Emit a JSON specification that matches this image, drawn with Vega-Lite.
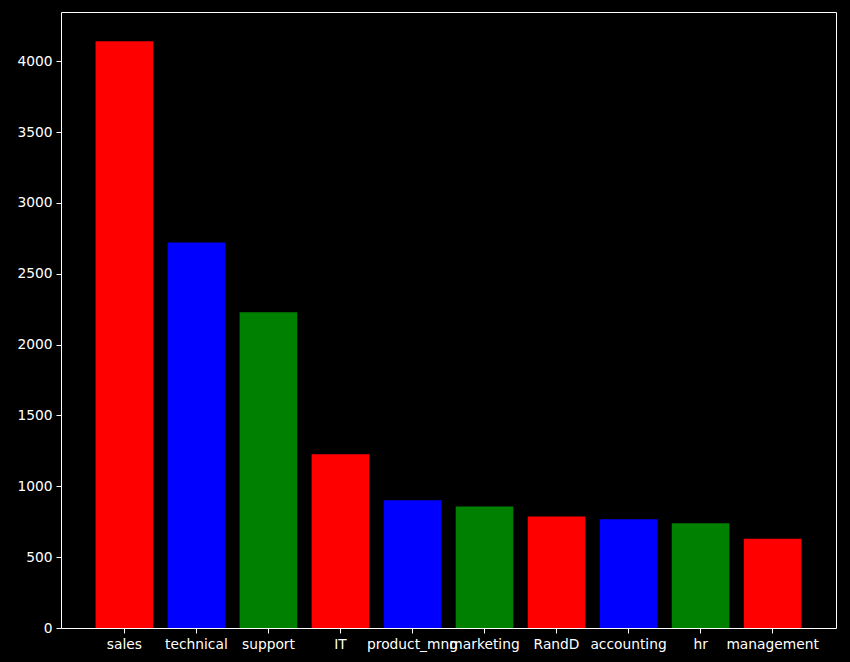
{
  "$schema": "https://vega.github.io/schema/vega-lite/v6.json",
  "width": 775,
  "height": 616,
  "autosize": {"type": "none"},
  "padding": {"left": 61, "top": 12, "right": 14, "bottom": 34},
  "background": "black",
  "config": {
    "view": {"stroke": "white", "strokeWidth": 1, "fill": "black"},
    "axis": {
      "domain": false,
      "grid": false,
      "tickColor": "white",
      "tickSize": 5,
      "labelColor": "white",
      "labelFont": "DejaVu Sans",
      "labelFontSize": 13.8,
      "labelPadding": 4,
      "title": null
    }
  },
  "data": {
    "values": [
      {"dept": "sales", "count": 4140, "c": "red"},
      {"dept": "technical", "count": 2720, "c": "blue"},
      {"dept": "support", "count": 2229, "c": "green"},
      {"dept": "IT", "count": 1227, "c": "red"},
      {"dept": "product_mng", "count": 902, "c": "blue"},
      {"dept": "marketing", "count": 858, "c": "green"},
      {"dept": "RandD", "count": 787, "c": "red"},
      {"dept": "accounting", "count": 767, "c": "blue"},
      {"dept": "hr", "count": 739, "c": "green"},
      {"dept": "management", "count": 630, "c": "red"}
    ]
  },
  "mark": {"type": "bar"},
  "encoding": {
    "x": {
      "field": "dept",
      "type": "nominal",
      "sort": null,
      "scale": {"paddingInner": 0.2, "paddingOuter": 0.48},
      "axis": {"labelAngle": 0}
    },
    "y": {
      "field": "count",
      "type": "quantitative",
      "scale": {"domain": [0, 4347], "nice": false, "zero": true},
      "axis": {"values": [0, 500, 1000, 1500, 2000, 2500, 3000, 3500, 4000], "format": "d"}
    },
    "color": {"field": "c", "type": "nominal", "scale": null}
  }
}
